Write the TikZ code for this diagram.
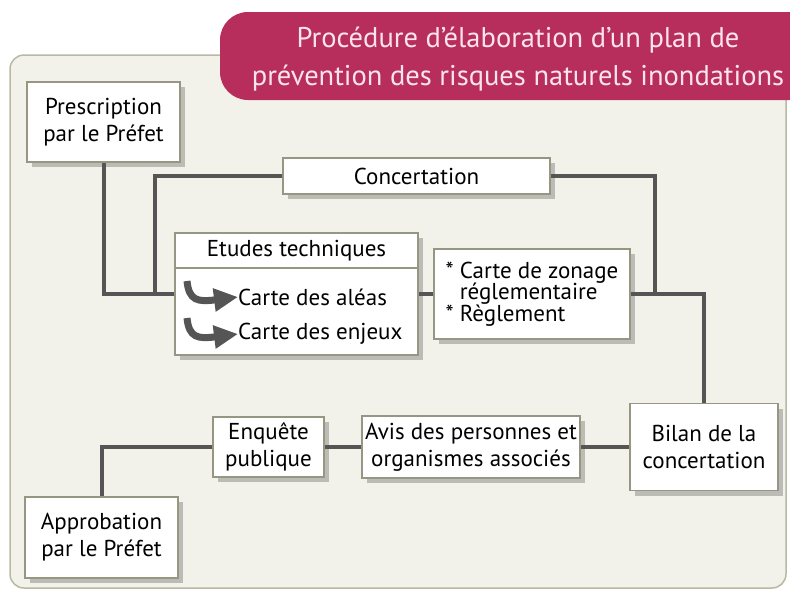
\documentclass[tikz,border=0pt]{standalone}
\usepackage{fontspec}
\setmainfont{PT Sans}
\usetikzlibrary{arrows.meta,calc,shadows}

\definecolor{panel}{RGB}{242,242,235}
\definecolor{panelrim}{RGB}{185,185,165}
\definecolor{banner}{RGB}{183,46,92}
\definecolor{bannertext}{RGB}{252,228,236}
\definecolor{linkgray}{RGB}{85,85,85}
\definecolor{boxrim}{RGB}{150,150,130}

\begin{document}
\begin{tikzpicture}[x=1pt,y=-1pt,
  every node/.style={font=\fontsize{23}{27}\selectfont},
  box/.style={draw=boxrim, line width=1.6pt, fill=white, align=center, inner sep=0pt,
    drop shadow={shadow xshift=5pt, shadow yshift=-5pt, opacity=0.22, fill=black}},
  link/.style={draw=linkgray, line width=4pt},
  bigarrow/.style={draw=linkgray, line width=7pt, -{Triangle[length=24pt,width=22pt]}}]
  \useasboundingbox (0,0) rectangle (790,590);
  \fill[white] (0,0) rectangle (790,590);
  \draw[panelrim, fill=panel, line width=1.5pt, rounded corners=14pt] (10,55) rectangle (786,588);
  \fill[banner, rounded corners=28pt] (220,12) rectangle (830,100);
  \node[text=bannertext, font=\fontsize{28.5}{38}\selectfont, align=center] (title) at (518,59)
    {Procédure d'élaboration d'un plan de\\prévention des risques naturels inondations};

  \node[box, minimum width=153pt, minimum height=80pt] (presc) at (103.5,122) {Prescription\\par le Préfet};
  \node[box, minimum width=267pt, minimum height=36pt] (concert) at (416.5,176) {Concertation};

  % etudes techniques
  \node[box, minimum width=243pt, minimum height=122pt] (etudes) at (296.5,294) {};
  \node[anchor=north, minimum height=36pt, inner sep=0pt] (etudhead) at (etudes.north) {Etudes techniques};
  \draw[boxrim, line width=1.6pt] ($(etudes.north west)+(0,36)$) -- ($(etudes.north east)+(0,36)$);
  \node[anchor=west, inner sep=0pt] (aleas) at (238,297) {Carte des aléas};
  \node[anchor=west, inner sep=0pt] (enjeux) at (238,334) {Carte des enjeux};
  \draw[bigarrow] (187,281) .. controls (189,301) and (198,302) .. (aleas.west);
  \draw[bigarrow] (187,318) .. controls (189,338) and (198,339) .. (enjeux.west);

  \node[box, minimum width=196pt, minimum height=90pt, font=\fontsize{23}{21.5}\selectfont, align=left] (zonage) at (532,294)
    {* Carte de zonage\\\phantom{* }réglementaire\\* Règlement};
  \node[box, minimum width=148pt, minimum height=87pt] (bilan) at (704,447) {Bilan de la\\concertation};
  \node[box, minimum width=218pt, minimum height=62pt] (avis) at (471,447) {Avis des personnes et\\organismes associés};
  \node[box, minimum width=111pt, minimum height=60pt] (enquete) at (268.5,447) {Enquête\\publique};
  \node[box, minimum width=153pt, minimum height=81pt] (approb) at (101.5,537.5) {Approbation\\par le Préfet};

  \coordinate (loopL) at (155,294);
  \coordinate (loopR) at (655,294);
  \draw[link] (presc.south) |- (etudes.west);
  \draw[link] (concert.west) -| (loopL);
  \draw[link] (concert.east) -| (loopR);
  \draw[link] (etudes.east) -- (zonage.west);
  \draw[link] (zonage.east) -| (bilan.north);
  \draw[link] (bilan.west) -- (avis.east);
  \draw[link] (avis.west) -- (enquete.east);
  \draw[link] (enquete.west) -| (approb.north);
\end{tikzpicture}
\end{document}
